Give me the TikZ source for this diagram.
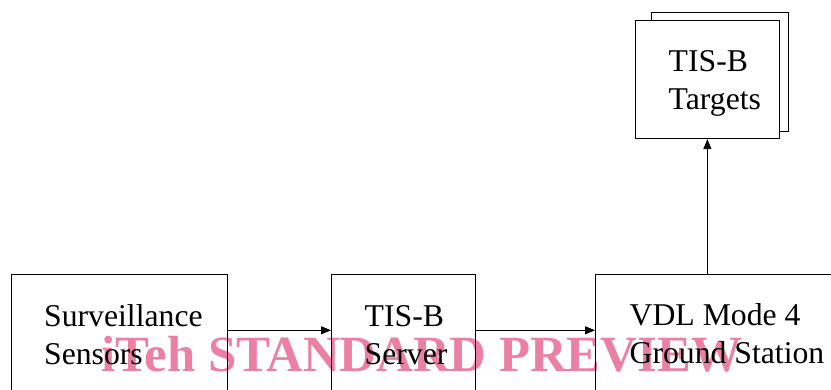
\documentclass[tikz,border=0pt]{standalone}
\usepackage{fontspec}
\setmainfont{Liberation Serif}
\usetikzlibrary{arrows.meta,calc}
\definecolor{wmpink}{RGB}{235,128,163}
\begin{document}
\begin{tikzpicture}[x=1pt,y=-1pt,
  box/.style={draw=black, line width=0.8pt, rectangle, inner sep=0pt, anchor=north west},
  lbl/.style={font=\fontsize{31.7}{38}\selectfont, align=left, anchor=base west, inner sep=0pt},
  conn/.style={line width=0.8pt, -{Triangle[length=10pt,width=8pt]}},
  wm/.style={font=\bfseries\fontsize{50.8}{50.8}\selectfont, text=wmpink, anchor=base west, inner sep=0pt}
  ]
\useasboundingbox (0,0) rectangle (831,390);
\clip (0,0) rectangle (831,390);
% watermark (underneath)
\node[wm] (wmark) at (101,371.7) {iTeh STANDARD PREVIEW};
% bottom boxes
\node[box, minimum width=216pt, minimum height=150pt] (sens) at (11,274) {};
\node[box, minimum width=144pt, minimum height=150pt] (srv) at (331,274) {};
\node[box, minimum width=260pt, minimum height=150pt] (vdl) at (595,274) {};
% targets (stacked)
\node[box, minimum width=136.7pt, minimum height=119.3pt] (tgtback) at (651,11.7) {};
\node[box, fill=white, minimum width=144pt, minimum height=118.3pt] (tgt) at (635,20) {};
% labels (base = baseline of last line)
\node[lbl] (sensl) at (44,364.7) {Surveillance\\Sensors};
\node[lbl] (srvl) at (364.5,364.7) {TIS-B\\Server};
\node[lbl] (vdll) at (629.5,363.7) {VDL Mode 4\\Ground Station};
\node[lbl] (tgtl) at (668.5,109.7) {TIS-B\\Targets};
% connectors
\draw[conn] ($(sens.north east)+(0,56.3)$) -- ($(srv.north west)+(0,56.3)$);
\draw[conn] ($(srv.north east)+(0,56.3)$) -- ($(vdl.north west)+(0,56.3)$);
\draw[conn] (tgt.south |- vdl.north) -- (tgt.south);
\end{tikzpicture}
\end{document}
